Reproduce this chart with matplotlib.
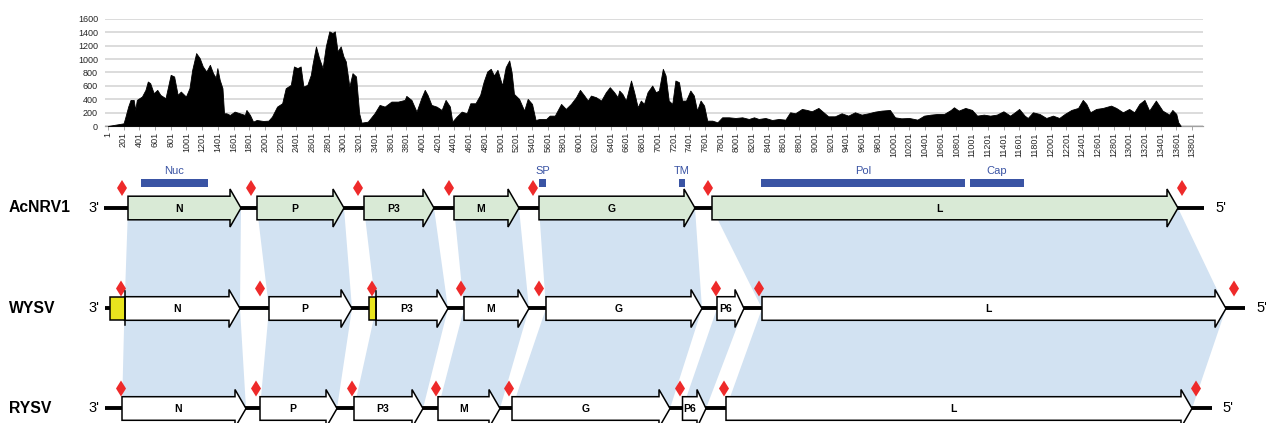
import matplotlib
matplotlib.use("Agg")
import matplotlib.pyplot as plt
from matplotlib.patches import Polygon, Rectangle
import numpy as np

# ---------------- coverage data ----------------
cov_pos = [1, 100, 201, 220, 260, 290, 330, 350, 370, 401, 435, 480, 510, 540, 585, 630, 670, 735, 801, 845,
           890, 930, 995, 1040, 1075, 1125, 1170, 1210, 1255, 1300, 1340, 1375, 1395, 1425, 1460, 1480, 1510,
           1555, 1615, 1680, 1745, 1765, 1810, 1850, 1895, 1980, 2045, 2090, 2155, 2220, 2265, 2330, 2370,
           2415, 2455, 2490, 2540, 2585, 2605, 2650, 2690, 2735, 2775, 2820, 2860, 2890, 2925, 2965, 3000,
           3030, 3075, 3115, 3160, 3200, 3230, 3310, 3395, 3460, 3525, 3610, 3695, 3780, 3800, 3865, 3930,
           3990, 4035, 4070, 4120, 4185, 4250, 4300, 4355, 4385, 4440, 4505, 4570, 4615, 4680, 4740, 4785,
           4830, 4875, 4915, 4960, 5020, 5065, 5110, 5140, 5170, 5235, 5300, 5345, 5400, 5445, 5495, 5580,
           5625, 5690, 5770, 5830, 5895, 5960, 6010, 6065, 6110, 6150, 6215, 6280, 6340, 6390, 6445, 6490,
           6510, 6550, 6595, 6660, 6700, 6745, 6785, 6825, 6870, 6930, 6975, 7015, 7065, 7100, 7140, 7185,
           7225, 7270, 7310, 7360, 7415, 7460, 7500, 7545, 7590, 7630, 7695, 7760, 7820, 7905, 7990, 8075,
           8160, 8225, 8285, 8370, 8455, 8540, 8625, 8685, 8750, 8835, 8900, 8960, 9045, 9110, 9170, 9255,
           9340, 9425, 9510, 9595, 9680, 9765, 9850, 9955, 10020, 10100, 10200, 10305, 10390, 10475, 10560,
           10645, 10730, 10770, 10830, 10915, 11000, 11065, 11150, 11230, 11315, 11400, 11485, 11545, 11600,
           11670, 11710, 11775, 11860, 11945, 12030, 12110, 12180, 12265, 12350, 12410, 12455, 12505, 12580,
           12665, 12770, 12835, 12920, 13000, 13065, 13130, 13195, 13255, 13340, 13425, 13510, 13550, 13600,
           13625, 13655]
cov_val = [0, 20, 40, 115, 290, 390, 390, 240, 390, 415, 440, 540, 665, 640, 490, 540, 465, 415, 765, 740,
           465, 515, 440, 565, 840, 1090, 1015, 890, 815, 915, 790, 720, 865, 690, 565, 190, 190,
           165, 215, 190, 165, 240, 165, 65, 90, 75, 80, 140, 290, 340, 565, 615, 890,
           865, 890, 590, 615, 765, 915, 1190, 1015, 865, 1190, 1415, 1390, 1415, 1115, 1190, 1040,
           965, 590, 790, 740, 190, 50, 65, 190, 315, 290, 365, 365, 390, 450, 390, 215,
           415, 540, 465, 315, 290, 240, 390, 290, 65, 140, 215, 190, 340, 340, 465, 665,
           815, 855, 755, 840, 605, 880, 980, 805, 480, 405, 230, 405, 330, 90, 105, 105,
           155, 155, 330, 255, 330, 430, 540, 455, 380, 455, 430, 380, 505, 580, 505, 430,
           530, 480, 380, 680, 505, 280, 380, 330, 505, 605, 505, 530, 855, 755, 380, 330,
           680, 655, 380, 380, 530, 455, 230, 380, 305, 80, 80, 55, 130, 130, 120, 130,
           105, 130, 105, 120, 90, 105, 95, 205, 190, 255, 240, 220, 270, 205, 145, 145,
           190, 155, 205, 170, 190, 215, 230, 240, 130, 115, 120, 95, 155, 170, 180,
           180, 240, 280, 230, 270, 240, 155, 170, 155, 170, 220, 155, 205, 255,
           155, 120, 205, 180, 120, 155, 120, 180, 240, 270, 390, 330, 205, 255,
           270, 305, 270, 205, 255, 205, 330, 390, 230, 380, 230, 170, 240, 180,
           55, 5]
x_ticks = list(range(1, 13802, 200))
y_ticks = list(range(0, 1601, 200))

# ---------------- genome maps (schematic units) ----------------
acnrv_genes = ["N", "P", "P3", "M", "G", "L"]
acnrv_start = [128, 257, 364, 454, 539, 712]
acnrv_end = [241, 344, 434, 519, 695, 1178]
acnrv_line = (104, 1204)
acnrv_diam = [122, 251, 358, 449, 533, 708, 1182]

wysv_genes = ["N", "P", "P3", "M", "G", "P6", "L"]
wysv_start = [124.5, 269, 376, 464, 546, 717, 762]
wysv_end = [240, 352, 448, 529, 702, 744, 1226]
wysv_line = (105, 1245)
wysv_diam = [121, 260, 372, 461, 539, 716, 759, 1234]
wysv_yellow = [(110, 124.5), (369, 376)]

rysv_genes = ["N", "P", "P3", "M", "G", "P6", "L"]
rysv_start = [122, 260, 354, 438, 512, 682.5, 726]
rysv_end = [246, 337, 423, 500, 670, 706, 1192]
rysv_line = (105, 1212)
rysv_diam = [121, 256, 352, 436, 509, 680, 724, 1196]

domain_names = ["Nuc", "SP", "TM", "Pol", "Cap"]
domain_start = [141, 539, 679, 761, 970]
domain_end = [208, 546, 685, 965, 1024]

# shading links: (gene index in upper genome, gene index in lower genome)
links_ac_wy = [(0, 0), (1, 1), (2, 2), (3, 3), (4, 4), (5, 6)]
links_wy_ry = [(i, i) for i in range(7)]

# ---------------- figure ----------------
W, H = 1266, 423
fig = plt.figure(figsize=(W / 100, H / 100), dpi=100)

ARIAL = ["Liberation Sans", "DejaVu Sans"]

# coverage axes
ax = fig.add_axes([105 / W, 1 - 126 / H, (1203 - 105) / W, 107 / H])
ax.fill_between(cov_pos, cov_val, 0, color="black", lw=0.6, edgecolor="black", zorder=3)
ax.set_xlim(-35, 13940)
ax.set_ylim(0, 1600)
ax.set_yticks(y_ticks)
ax.set_yticklabels([str(v) for v in y_ticks], fontsize=6.5, family=ARIAL, color="#262626")
ax.set_xticks(x_ticks)
ax.set_xticklabels([str(v) for v in x_ticks], rotation=90, fontsize=6.5, family=ARIAL, color="#262626")
ax.tick_params(axis="y", length=0, pad=5)
ax.tick_params(axis="x", length=3, width=0.6, color="#999999", pad=1.5)
ax.grid(axis="y", color="#d9d9d9", lw=1.3, zorder=0)
for s in ["top", "right", "left"]:
    ax.spines[s].set_visible(False)
ax.spines["bottom"].set_color("#a0a0a0")
ax.spines["bottom"].set_linewidth(0.9)
ax.set_axisbelow(True)

# diagram axes in pixel-like coordinates
dx = fig.add_axes([0, 0, 1, 1], zorder=-1)
dx.set_xlim(0, W)
dx.set_ylim(H, 0)
dx.axis("off")

rows_y = [208, 308.5, 408.5]
HB, HH = 11.8, 19
SHADE = "#d2e2f2"
GREEN = "#d9ead6"


def arrow(x0, x1, yc, fc, head=11):
    pts = [(x0, yc - HB), (x1 - head, yc - HB), (x1 - head, yc - HH), (x1, yc),
           (x1 - head, yc + HH), (x1 - head, yc + HB), (x0, yc + HB)]
    dx.add_patch(Polygon(pts, closed=True, fc=fc, ec="black", lw=1.1, zorder=4, joinstyle="miter"))


def diamond(x, yc):
    y = yc - 20
    pts = [(x, y - 8), (x + 5, y), (x, y + 8), (x - 5, y)]
    dx.add_patch(Polygon(pts, closed=True, fc="#ee2a2a", ec="none", zorder=5))


def link(s1, e1, y1, s2, e2, y2):
    dx.add_patch(Polygon([(s1, y1), (e1, y1), (e2, y2), (s2, y2)], closed=True,
                         fc=SHADE, ec="none", zorder=1))


for a, b in links_ac_wy:
    link(acnrv_start[a], acnrv_end[a], rows_y[0], wysv_start[b], wysv_end[b], rows_y[1])
for a, b in links_wy_ry:
    link(wysv_start[a], wysv_end[a], rows_y[1], rysv_start[b], rysv_end[b], rows_y[2])

genomes = [
    ("AcNRV1", acnrv_genes, acnrv_start, acnrv_end, acnrv_line, acnrv_diam, GREEN, 1215),
    ("WYSV", wysv_genes, wysv_start, wysv_end, wysv_line, wysv_diam, "white", 1256),
    ("RYSV", rysv_genes, rysv_start, rysv_end, rysv_line, rysv_diam, "white", 1222),
]

for (name, genes, st, en, ln, dm, fc, x5), yc in zip(genomes, rows_y):
    dx.plot([ln[0], ln[1]], [yc, yc], color="black", lw=2.8, solid_capstyle="butt", zorder=3)
    dx.text(9, yc, name, fontsize=11.3, fontweight="bold", family=ARIAL, ha="left", va="center")
    dx.text(99, yc, "3'", fontsize=10.5, family=ARIAL, ha="right", va="center")
    dx.text(x5, yc, "5'", fontsize=10.5, family=ARIAL, ha="left", va="center")
    for g, s, e in zip(genes, st, en):
        head = 11 if e - s > 40 else 9
        arrow(s, e, yc, fc, head)
        dx.text((s + e - head) / 2, yc + 0.5, g, fontsize=7.5, fontweight="bold", family=ARIAL,
                ha="center", va="center", zorder=6)
    for d in dm:
        diamond(d, yc)

# yellow boxes on WYSV
for s, e in wysv_yellow:
    dx.add_patch(Rectangle((s, rows_y[1] - HB), e - s, 2 * HB, fc="#e8e41e", ec="black", lw=1.1, zorder=5))
    dx.plot([e, e], [rows_y[1] - 17, rows_y[1] + 17], color="black", lw=1.1, zorder=6)

# domains on AcNRV1
for nm, s, e in zip(domain_names, domain_start, domain_end):
    dx.add_patch(Rectangle((s, 179.5), e - s, 7.5, fc="#3a54a4", ec="none", zorder=5))
    dx.text((s + e) / 2, 171, nm, fontsize=8, family=ARIAL, color="#3a54a4", ha="center", va="center")

fig.savefig("out.png", dpi=100)
